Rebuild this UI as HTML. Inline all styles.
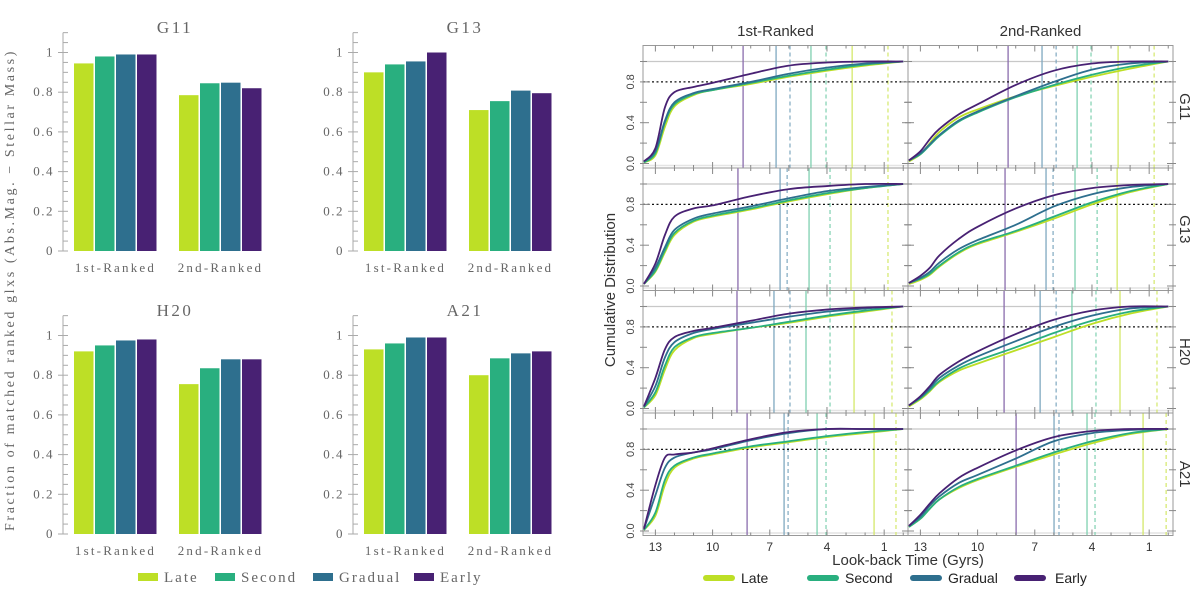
<!DOCTYPE html>
<html><head><meta charset="utf-8"><style>
html,body{margin:0;padding:0;background:#fff;}
svg{display:block;}
</style></head><body>
<svg id="fig" width="1200" height="598" viewBox="0 0 1200 598" xmlns="http://www.w3.org/2000/svg">
<g id="left"></g>
<g id="right"></g>
</svg>
<script>
const NS='http://www.w3.org/2000/svg';
function mk(tag,attrs,parent,txt){const e=document.createElementNS(NS,tag);for(const k in attrs)e.setAttribute(k,attrs[k]);if(txt!==undefined)e.textContent=txt;parent.appendChild(e);return e;}

// ---------- data ----------
const seriesNames=['Late','Second','Gradual','Early'];
const seriesColors=['#bddf26','#29af7f','#2e6f8e','#482173'];
const groups=['1st-Ranked','2nd-Ranked'];
const panels=['G11','G13','H20','A21'];
const barG11=[[0.945,0.98,0.99,0.99],[0.785,0.845,0.848,0.82]];
const barG13=[[0.9,0.94,0.955,1.0],[0.71,0.755,0.808,0.795]];
const barH20=[[0.92,0.95,0.975,0.98],[0.755,0.835,0.88,0.88]];
const barA21=[[0.93,0.96,0.99,0.99],[0.8,0.885,0.91,0.92]];
const barTicks=['0','0.2','0.4','0.6','0.8','1'];

const timeGrid=[13.6,13,12.5,12,11,10,8,6,4,2,0];
const xTicks=[13,10,7,4,1];
const yTickLabels=['0.0','0.4','0.8'];
const cG11_1=[[0.01,0.08,0.36,0.56,0.67,0.72,0.78,0.85,0.91,0.96,1],[0.01,0.10,0.40,0.58,0.68,0.72,0.79,0.86,0.92,0.97,1],[0.02,0.12,0.42,0.60,0.69,0.73,0.80,0.88,0.94,0.98,1],[0.02,0.15,0.55,0.70,0.75,0.79,0.88,0.96,0.99,1,1]];
const cG13_1=[[0.02,0.14,0.33,0.5,0.63,0.68,0.75,0.83,0.90,0.96,1],[0.02,0.15,0.35,0.52,0.64,0.69,0.76,0.84,0.91,0.96,1],[0.02,0.18,0.38,0.55,0.66,0.71,0.78,0.86,0.93,0.97,1],[0.02,0.22,0.5,0.68,0.76,0.79,0.88,0.95,0.98,1,1]];
const cH20_1=[[0.01,0.13,0.38,0.57,0.69,0.73,0.79,0.84,0.9,0.95,1],[0.01,0.16,0.42,0.6,0.7,0.74,0.79,0.85,0.91,0.96,1],[0.02,0.22,0.5,0.65,0.74,0.78,0.84,0.9,0.95,0.98,1],[0.02,0.3,0.58,0.7,0.76,0.79,0.86,0.93,0.97,0.99,1]];
const cA21_1=[[0.01,0.15,0.45,0.62,0.71,0.75,0.82,0.87,0.92,0.96,1],[0.01,0.18,0.5,0.64,0.72,0.76,0.83,0.88,0.93,0.97,1],[0.02,0.35,0.62,0.72,0.77,0.8,0.89,0.96,1,1,1],[0.02,0.45,0.72,0.75,0.77,0.81,0.9,0.97,1,1,1]];
const cG11_2=[[0.02,0.09,0.2,0.31,0.45,0.53,0.66,0.76,0.85,0.93,1],[0.03,0.09,0.18,0.27,0.41,0.5,0.65,0.77,0.87,0.95,1],[0.03,0.1,0.19,0.28,0.42,0.51,0.66,0.8,0.92,0.98,1],[0.03,0.12,0.24,0.34,0.48,0.58,0.77,0.91,0.98,1,1]];
const cG13_2=[[0.02,0.06,0.11,0.19,0.32,0.41,0.53,0.66,0.80,0.92,1],[0.03,0.07,0.12,0.2,0.33,0.42,0.54,0.68,0.82,0.93,1],[0.03,0.08,0.14,0.23,0.36,0.45,0.6,0.78,0.9,0.97,1],[0.03,0.1,0.18,0.3,0.46,0.58,0.76,0.89,0.96,0.99,1]];
const cH20_2=[[0.02,0.09,0.17,0.26,0.37,0.44,0.57,0.7,0.83,0.93,1],[0.03,0.1,0.18,0.27,0.39,0.47,0.6,0.74,0.86,0.95,1],[0.03,0.11,0.2,0.3,0.42,0.51,0.66,0.8,0.91,0.98,1],[0.03,0.12,0.22,0.33,0.46,0.56,0.73,0.87,0.96,1,1]];
const cA21_2=[[0.04,0.12,0.22,0.31,0.42,0.5,0.63,0.75,0.86,0.95,1],[0.04,0.12,0.22,0.31,0.43,0.51,0.64,0.77,0.88,0.96,1],[0.05,0.14,0.25,0.34,0.47,0.55,0.71,0.88,0.96,0.99,1],[0.05,0.16,0.27,0.37,0.52,0.62,0.79,0.92,0.98,1,1]];
const vG11_1=[[2.68,0.80],[4.84,4.05],[6.67,5.94],[8.40,null]];
const vG13_1=[[2.74,0.80],[4.94,3.84],[6.46,6.09],[8.67,null]];
const vH20_1=[[2.58,0.59],[5.10,3.84],[6.78,5.94],[8.72,null]];
const vA21_1=[[1.53,0.38],[4.52,4.05],[6.25,6.04],[8.19,null]];
const vG11_2=[[2.63,0.74],[4.78,4.05],[6.62,5.88],[8.40,null]];
const vG13_2=[[2.68,0.74],[4.89,3.73],[6.41,6.04],[8.56,null]];
const vH20_2=[[2.53,0.59],[5.05,3.79],[6.72,5.88],[8.61,null]];
const vA21_2=[[1.32,0.11],[4.26,3.84],[5.99,5.73],[7.98,null]];

const barData=[barG11,barG13,barH20,barA21];
const curveData=[[cG11_1,cG11_2],[cG13_1,cG13_2],[cH20_1,cH20_2],[cA21_1,cA21_2]];
const vlineData=[[vG11_1,vG11_2],[vG13_1,vG13_2],[vH20_1,vH20_2],[vA21_1,vA21_2]];

// ---------- left bar charts ----------
const L=document.getElementById('left');
const serif='"Liberation Serif", serif';
const sans='"Liberation Sans", sans-serif';
const barOrig=[[63,251],[353,251],[63,534],[353,534]];
const yUnit=198.5;
panels.forEach((p,pi)=>{
  const [ax,y0]=barOrig[pi];
  const g=mk('g',{},L);
  
  
  const yS=v=>y0-v*yUnit;
  const axl=mk('line',{x1:ax,y1:yS(1.1),x2:ax,y2:y0,stroke:'#aaa','stroke-width':1},g);
   
  for(let i=0;i<=22;i++){const v=i*0.05;const major=(i%4===0);
    mk('line',{x1:major?ax-5:ax,y1:yS(v),x2:ax+5,y2:yS(v),stroke:'#aaa','stroke-width':1},g);}
  barTicks.forEach((t,i)=>{const tl=mk('text',{x:ax-9,y:yS(i*0.2)+4,'text-anchor':'end','font-family':serif,'font-size':13,fill:'#666','letter-spacing':'1.5'},g,t);
     });
  barData[pi].forEach((vals,gi)=>{
    const gx=ax+11+gi*105;
    vals.forEach((v,si)=>{
      const r=mk('rect',{x:gx+si*21,y:yS(v),width:19.5,height:v*yUnit,fill:seriesColors[si]},g);
      
      
    });
    const gl=mk('text',{x:gx+41.5,y:y0+21,'text-anchor':'middle','font-family':serif,'font-size':13,fill:'#666','letter-spacing':'2.2'},g,groups[gi]);
     
  });
  const tt=mk('text',{x:ax+112,y:y0-218,'text-anchor':'middle','font-family':serif,'font-size':17,fill:'#666','letter-spacing':'2.5'},g,p);
   
});
const ylt=mk('text',{x:0,y:0,transform:'translate(14,290) rotate(-90)','text-anchor':'middle','font-family':serif,'font-size':14,fill:'#666','letter-spacing':'2.6'},L,'Fraction of matched ranked glxs (Abs.Mag. \u2212 Stellar Mass)');
 
const barLegX=[138,215,313,414];
seriesNames.forEach((n,i)=>{
  const lg=mk('g',{},L);
   
  mk('rect',{x:barLegX[i],y:573,width:20,height:8,fill:seriesColors[i]},lg);
  mk('text',{x:barLegX[i]+26,y:582,'font-family':serif,'font-size':15,fill:'#666','letter-spacing':'2'},lg,n);
});

// ---------- right cumulative charts ----------
const R=document.getElementById('right');
const colX=[643,908], colW=265, rowTop0=45.5, rowH=122.5;
const tMax=13.65, tMin=-0.25;
const xS=(c,t)=>colX[c]+(tMax-t)/(tMax-tMin)*colW;
const yC=(r,v)=>rowTop0+r*rowH+16+(1-v)*102;
function smooth(pts){
  let d='M'+pts[0][0].toFixed(2)+','+pts[0][1].toFixed(2);
  for(let i=0;i<pts.length-1;i++){
    const p0=pts[Math.max(0,i-1)],p1=pts[i],p2=pts[i+1],p3=pts[Math.min(pts.length-1,i+2)];
    const c1=[p1[0]+(p2[0]-p0[0])/6,p1[1]+(p2[1]-p0[1])/6];
    const c2=[p2[0]-(p3[0]-p1[0])/6,p2[1]-(p3[1]-p1[1])/6];
    d+='C'+c1[0].toFixed(2)+','+c1[1].toFixed(2)+' '+c2[0].toFixed(2)+','+c2[1].toFixed(2)+' '+p2[0].toFixed(2)+','+p2[1].toFixed(2);
  }
  return d;
}
const lightCols=['#d4e86a','#7fd0b0','#7fa8c0','#8a6cad'];
panels.forEach((p,r)=>{
  const top=rowTop0+r*rowH;
  for(let c=0;c<2;c++){
    const g=mk('g',{},R);
    
    
    const x0=colX[c];
    const clipId='clip'+r+c;
    const cp=mk('clipPath',{id:clipId},g); mk('rect',{x:x0,y:top,width:colW,height:rowH},cp);
    const inner=mk('g',{'clip-path':'url(#'+clipId+')'},g);
    mk('line',{x1:x0,y1:yC(r,1),x2:x0+colW,y2:yC(r,1),stroke:'#c8c8c8','stroke-width':1.2},inner);
    mk('line',{x1:x0,y1:yC(r,0)+2,x2:x0+colW,y2:yC(r,0)+2,stroke:'#e4e4e4','stroke-width':1.5},inner);
    vlineData[r][c].forEach((pair,si)=>{
      if(pair[0]!==null){const vl=mk('line',{x1:xS(c,pair[0]),y1:top,x2:xS(c,pair[0]),y2:top+rowH,stroke:lightCols[si],'stroke-width':1.3},inner);
         }
      if(pair[1]!==null){const vd=mk('line',{x1:xS(c,pair[1]),y1:top,x2:xS(c,pair[1]),y2:top+rowH,stroke:lightCols[si],'stroke-width':1.2,'stroke-dasharray':'4,3'},inner);
         }
    });
    mk('line',{x1:x0,y1:yC(r,0.8),x2:x0+colW,y2:yC(r,0.8),stroke:'#111','stroke-width':1.3,'stroke-dasharray':'2,2.5'},inner);
    curveData[r][c].forEach((vals,si)=>{
      const pts=timeGrid.map((t,i)=>[xS(c,t),yC(r,vals[i])]);
      const pa=mk('path',{d:smooth(pts),fill:'none',stroke:seriesColors[si],'stroke-width':1.8},inner);
      
      
    });
    mk('rect',{x:x0,y:top,width:colW,height:rowH,fill:'none',stroke:'#999','stroke-width':1},g);
    for(let t=13;t>=0;t--){const major=xTicks.includes(t);const len=major?6:3;const xx=xS(c,t);
      mk('line',{x1:xx,y1:top,x2:xx,y2:top+len,stroke:'#888'},g);
      mk('line',{x1:xx,y1:top+rowH,x2:xx,y2:top+rowH-len,stroke:'#888'},g);}
    for(let i=0;i<=5;i++){const v=i*0.2;const yy=yC(r,v);const len=(i%2===0)?6:4;
      mk('line',{x1:x0-3,y1:yy,x2:x0+len,y2:yy,stroke:'#888'},g);
      mk('line',{x1:x0+colW-len,y1:yy,x2:x0+colW+3,y2:yy,stroke:'#888'},g);}
    if(c===0){yTickLabels.forEach((s,i)=>{const yy=yC(r,i*0.4);
      const tl=mk('text',{x:0,y:0,transform:'translate(634,'+yy+') rotate(-90)','text-anchor':'middle','font-family':sans,'font-size':11,fill:'#444'},g,s);
       });}
    if(r===3){xTicks.forEach(t=>{const tl=mk('text',{x:xS(c,t),y:551,'text-anchor':'middle','font-family':sans,'font-size':12,fill:'#333'},g,String(t));
       });}
  }
  const rl=mk('text',{x:0,y:0,transform:'translate(1180,'+(top+rowH/2)+') rotate(90)','text-anchor':'middle','font-family':sans,'font-size':15,fill:'#333'},R,p);
   
});
['1st-Ranked','2nd-Ranked'].forEach((s,c)=>{const t=mk('text',{x:colX[c]+colW/2,y:36,'text-anchor':'middle','font-family':sans,'font-size':15,fill:'#333'},R,s);
   });
const cy=mk('text',{x:0,y:0,transform:'translate(615,290) rotate(-90)','text-anchor':'middle','font-family':sans,'font-size':15,fill:'#333'},R,'Cumulative Distribution');
 
const cx=mk('text',{x:908,y:565,'text-anchor':'middle','font-family':sans,'font-size':15,fill:'#333'},R,'Look-back Time (Gyrs)');
 
const legX=[706,810,913,1017];
seriesNames.forEach((n,i)=>{
  const lg=mk('g',{},R);
   
  mk('line',{x1:legX[i],y1:578,x2:legX[i]+26,y2:578,stroke:seriesColors[i],'stroke-width':6,'stroke-linecap':'round'},lg);
  mk('text',{x:legX[i]+(i===3?38:35),y:583,'font-family':sans,'font-size':14,fill:'#222'},lg,n);
});
</script>
</body></html>
